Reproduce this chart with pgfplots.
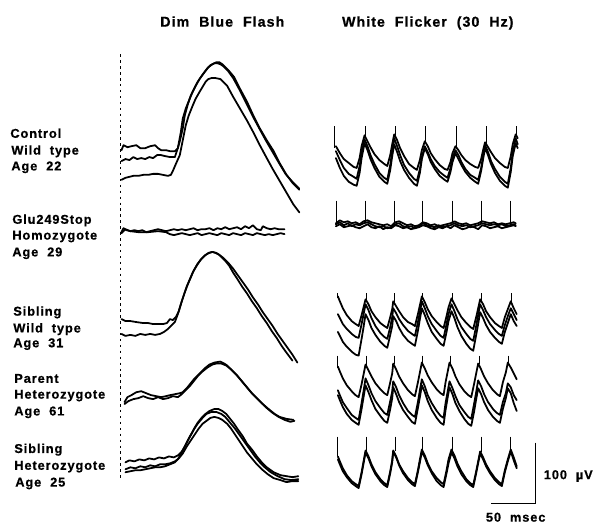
\documentclass[border=0pt]{standalone}
\usepackage{pgfplots}
\pgfplotsset{compat=1.18}
\usepackage{pgfplotstable}
\usepackage{fontspec}
\setmainfont{Liberation Sans}
\newfontfamily\lab{Liberation Sans}[LetterSpace=7, FakeBold=0.7]
\newcommand{\lb}{\lab\bfseries\fontsize{13}{15}\selectfont}
\newcommand{\tl}{\lab\bfseries\fontsize{14.5}{16}\selectfont}

% Flicker: control (x, three traces)
\pgfplotstableread{
x a b c
340 148 153 160
344 155 162 170
348 161 170 178
353 165 176 184
358 169 179 187
361 170 181 188
364 160 168 175
366 148 155 160
369 137 141 145
372 143 148 152
375 149 157 161
379 156 166 170
384 162 175 179
389 166 180 184
392 168 182 186
395 157 167 172
397 146 153 158
399 136 140 146
402 142 148 154
405 150 157 163
409 158 167 172
414 166 175 180
419 170 181 186
422 172 183 188
425 162 171 175
427 152 159 161
430 143 148 150
433 148 154 156
436 155 161 164
440 161 168 171
445 167 174 178
450 171 178 182
453 172 180 184
456 164 170 174
458 155 160 164
461 148 152 155
464 152 157 161
467 157 164 167
471 162 171 174
476 166 177 180
481 169 180 184
484 170 182 186
487 161 170 173
489 152 158 161
491 144 147 150
494 149 154 157
497 154 163 166
501 160 171 175
506 165 179 183
511 169 184 188
514 170 186 190
517 158 170 174
519 146 154 158
522 136 140 145
524 140 146 150
}\ctrlflick

% Flicker: Glu249Stop (noise)
\pgfplotstableread{
x a b c
340 226 229 227
344 223 227 225
348 225 230 228
352 224 229 226
356 226 228 229
360 225 230 227
364 227 231 228
368 224 229 226
372 223 227 225
376 225 230 227
380 226 231 229
384 227 229 230
388 228 232 229
392 227 230 231
396 229 231 230
400 225 228 227
404 224 229 226
408 226 231 229
412 228 230 230
416 227 232 229
420 229 231 231
424 228 230 229
428 225 228 226
432 226 229 228
436 228 231 229
440 227 232 230
444 229 230 228
448 228 231 230
452 227 229 229
456 226 231 228
460 224 228 226
464 226 230 228
468 227 232 229
472 226 231 228
476 228 229 230
480 227 230 229
484 226 232 228
488 224 228 226
492 225 229 227
496 226 231 228
500 225 230 227
504 227 229 228
508 226 231 227
512 227 230 229
516 226 229 228
520 225 228 227
522 226 229 228
}\gluflick

% Flicker: sibling wild type (w*) and sibling heterozygote (h*)
\pgfplotstableread{
x wa wb wc ha hb
342 300 318 336 462 465
344 305 322 340 467 470
347 312 328 346 474 477
351 319 333 351 481 483
356 325 338 356 487 489
360 328 341 359 490 492
363 330 342 360 492 494
366 319 328 343 478 480
368 311 318 331 467 469
370 303 308 318 456 458
373 308 314 324 462 464
376 315 322 332 470 472
380 321 330 339 478 480
385 327 337 346 485 487
389 330 341 350 489 491
392 332 343 352 491 493
395 321 331 339 477 479
397 313 321 330 466 468
398 305 312 320 456 457
401 310 317 325 462 463
404 315 323 332 470 471
408 321 329 339 477 479
413 326 335 345 484 486
417 328 338 348 488 490
420 330 340 350 490 492
423 318 326 335 476 478
425 309 316 323 465 468
427 300 305 312 455 457
430 306 312 319 461 463
433 313 320 327 469 471
437 320 328 336 477 479
442 326 335 343 484 487
446 330 340 348 488 491
449 332 342 350 490 493
452 320 328 336 476 479
454 311 318 325 465 469
457 302 308 315 455 458
460 308 315 322 461 464
463 314 323 331 469 472
467 321 331 340 477 480
472 327 338 348 485 487
476 331 343 353 489 491
479 333 345 355 491 493
482 321 330 339 477 479
484 312 319 328 467 469
486 303 308 316 457 459
489 308 314 322 463 465
492 315 321 329 470 472
496 321 328 336 477 479
501 327 334 342 484 486
505 330 338 346 488 490
508 332 340 348 490 492
511 321 329 336 476 478
514 313 320 327 465 467
517 305 312 318 455 457
520 312 318 325 463 466
523 318 324 330 472 474
}\sibflick

% Flicker: parent heterozygote
\pgfplotstableread{
x a b c
342 371 395 400
344 376 400 405
347 383 407 412
351 390 413 419
356 396 420 425
360 400 423 428
363 402 425 430
366 389 408 414
368 379 396 402
370 369 383 390
373 375 390 397
376 381 398 405
380 388 406 414
385 394 413 421
389 398 418 426
392 400 420 428
395 387 406 414
397 378 396 403
398 368 386 392
401 374 392 399
404 381 400 407
408 388 408 415
413 395 416 422
417 399 420 427
420 401 422 429
423 387 407 413
425 377 395 402
427 367 384 390
430 373 391 397
433 380 400 406
437 387 408 415
442 394 416 423
446 398 421 428
449 400 423 430
451 387 408 415
453 377 397 403
455 367 386 392
458 373 393 399
461 381 401 408
465 389 410 416
470 396 417 424
474 400 422 429
477 402 424 431
480 388 408 416
482 378 397 404
484 368 385 393
487 374 391 399
490 381 399 407
494 388 407 415
499 395 414 422
503 399 418 426
506 401 420 428
509 387 407 414
512 377 398 403
514 367 388 393
517 372 392 398
520 378 400 408
523 384 405 416
}\parflick

\begin{document}
\begin{tikzpicture}
\begin{axis}[
  width=596bp, height=530bp, scale only axis,
  xmin=0, xmax=596, ymin=0, ymax=530, y dir=reverse,
  hide axis, clip=false,
  unbounded coords=jump,
  trace/.style={black, line width=1.8pt, line join=round, line cap=round, mark=none},
  art/.style={black, line width=1.1pt, mark=none},
  every node/.append style={inner sep=0pt},
]
\path (rel axis cs:0,0) rectangle (rel axis cs:1,1);

% ---- titles
\node[anchor=base, font=\tl] at (axis cs:225,27) {Dim\ \ Blue\ \ Flash};
\node[anchor=base, font=\tl] at (axis cs:433,27) {White\ \ Flicker\ \ (30\ \ Hz)};

% ---- row labels
\node[anchor=base west, font=\lb] at (axis cs:7,139.5) {Control};
\node[anchor=base west, font=\lb] at (axis cs:8,156.5) {Wild\ \ type};
\node[anchor=base west, font=\lb] at (axis cs:8,172.5) {Age\ \ 22};
\node[anchor=base west, font=\lb] at (axis cs:9,226.5) {Glu249Stop};
\node[anchor=base west, font=\lb] at (axis cs:9,242.5) {Homozygote};
\node[anchor=base west, font=\lb] at (axis cs:9,259.5) {Age\ \ 29};
\node[anchor=base west, font=\lb] at (axis cs:10,319.5) {Sibling};
\node[anchor=base west, font=\lb] at (axis cs:10,336.5) {Wild\ \ type};
\node[anchor=base west, font=\lb] at (axis cs:10,351.5) {Age\ \ 31};
\node[anchor=base west, font=\lb] at (axis cs:11,387.5) {Parent};
\node[anchor=base west, font=\lb] at (axis cs:11,403.5) {Heterozygote};
\node[anchor=base west, font=\lb] at (axis cs:11,420.5) {Age\ \ 61};
\node[anchor=base west, font=\lb] at (axis cs:11,458.5) {Sibling};
\node[anchor=base west, font=\lb] at (axis cs:11,475.5) {Heterozygote};
\node[anchor=base west, font=\lb] at (axis cs:12,492.5) {Age\ \ 25};

% ---- flash onset (dashed)
\addplot[black, line width=1.2pt, dash pattern=on 2.5bp off 3.5bp, mark=none] coordinates {(122,55) (122,485)};

% ---- Dim blue flash: control
\addplot[trace] coordinates {(123,152)(125,147)(129,149)(133,148)(138,147)(142,150)(147,150)(152,148)(157,147)(160,150)(163,152)(168,152)(172,153)(177,153)(180,150)(182,143)(185,130)(187,117)(190,106)(193,97)(197,89)(200,83)(204,77)(207,73)(211,68)(215,65)(219,63)(222,63)(225,65)(227,67)(232,72)(237,78)(243,90)(250,103)(256,116)(263,130)(270,142)(277,153)(283,165)(290,177)(296,185)(303,192)};
\addplot[trace] coordinates {(123,163)(127,161)(131,162)(135,159)(139,161)(143,160)(147,161)(151,159)(155,160)(159,157)(163,157)(167,158)(172,159)(177,159)(180,150)(183,134)(185,120)(188,110)(192,100)(195,93)(198,87)(202,80)(207,73)(210,69)(213,66)(217,64)(220,64)(223,65)(226,67)(231,72)(236,79)(242,90)(249,104)(256,118)(263,131)(269,142)(276,154)(283,166)(289,176)(296,184)(303,191)};
\addplot[trace] coordinates {(123,182)(127,180)(131,179)(135,178)(140,178)(145,177)(150,177)(155,176)(160,176)(165,177)(170,178)(173,177)(175,173)(178,166)(182,157)(185,142)(188,127)(191,117)(195,107)(198,100)(202,93)(205,88)(208,83)(211,80)(214,79)(218,79)(223,80)(227,84)(230,87)(236,98)(243,110)(250,122)(257,135)(263,147)(270,160)(276,171)(283,183)(290,195)(297,207)(303,215)};

% ---- Dim blue flash: Glu249Stop
\addplot[trace] coordinates {(123,235)(125,231)(128,233)(132,234)(136,233)(140,234)(144,233)(148,235)(152,234)(156,233)(160,232)(164,233)(168,234)(172,233)(176,232)(180,233)(184,232)(188,233)(192,232)(196,231)(200,233)(204,232)(208,232)(212,231)(216,233)(220,231)(224,232)(228,230)(232,232)(236,231)(240,230)(244,232)(248,229)(252,231)(256,228)(260,232)(264,233)(266,229)(270,231)(274,232)(278,231)(282,232)(288,232)};
\addplot[trace] coordinates {(123,236)(127,232)(132,234)(140,235)(150,235)(160,234)(168,235)(172,237)(176,238)(180,237)(184,236)(188,237)(192,238)(196,237)(200,236)(204,238)(208,237)(212,236)(216,237)(220,238)(224,236)(228,237)(232,238)(236,236)(240,237)(244,238)(248,236)(252,237)(256,238)(260,236)(264,237)(268,238)(272,237)(276,238)(280,237)(284,236)(288,237)};

% ---- Dim blue flash: sibling wild type
\addplot[trace] coordinates {(123,323)(127,325)(132,325)(138,326)(145,327)(150,327)(155,328)(160,328)(165,328)(169,327)(172,323)(175,324)(178,321)(181,315)(184,305)(187,296)(190,288)(193,281)(196,274)(200,267)(204,262)(208,258)(212,256)(215,255)(219,256)(222,258)(225,261)(228,264)(232,269)(236,276)(240,282)(245,290)(250,297)(255,305)(260,312)(265,320)(270,327)(275,335)(280,342)(285,350)(290,357)(296,365)};
\addplot[trace] coordinates {(123,338)(127,340)(132,339)(137,340)(142,338)(147,339)(152,338)(157,339)(162,338)(166,336)(170,333)(174,329)(177,326)(180,318)(183,308)(186,299)(189,290)(192,283)(195,276)(199,269)(203,263)(207,259)(211,256)(215,255)(218,256)(222,258)(226,261)(231,266)(236,272)(241,279)(246,286)(251,293)(256,301)(261,308)(266,316)(271,323)(276,330)(281,338)(286,345)(291,352)(296,359)(301,367)};

% ---- Dim blue flash: parent heterozygote
\addplot[trace] coordinates {(126,407)(129,402)(133,400)(138,397)(143,396)(148,398)(153,400)(158,401)(163,402)(168,401)(172,400)(177,399)(182,398)(185,397)(189,393)(193,388)(197,383)(202,378)(207,373)(212,369)(217,367)(223,366)(227,368)(230,370)(235,375)(240,380)(245,386)(250,392)(255,398)(260,403)(266,409)(273,415)(278,419)(283,422)(290,424)(297,425)};
\addplot[trace] coordinates {(126,409)(130,406)(135,404)(140,403)(145,401)(150,403)(155,404)(160,402)(165,404)(170,403)(175,401)(180,402)(184,399)(188,395)(192,391)(196,386)(200,381)(205,376)(210,372)(215,369)(219,368)(224,368)(229,370)(234,374)(239,379)(244,385)(249,391)(254,397)(259,402)(264,407)(270,413)(276,418)(282,422)(288,425)(294,427)(298,426)};

% ---- Dim blue flash: sibling heterozygote
\addplot[trace] coordinates {(127,468)(131,466)(136,467)(141,465)(146,466)(151,464)(156,465)(161,463)(166,464)(171,462)(176,463)(180,461)(184,457)(187,452)(190,446)(194,439)(197,433)(200,428)(204,423)(208,419)(212,416)(217,414)(221,414)(225,416)(229,419)(233,424)(237,429)(241,435)(246,442)(250,449)(255,455)(260,462)(265,468)(270,473)(277,478)(284,481)(290,482)(296,483)(302,482)};
\addplot[trace] coordinates {(127,475)(132,473)(137,474)(142,472)(147,473)(152,471)(157,472)(162,470)(167,470)(172,469)(177,467)(181,464)(185,459)(189,452)(193,446)(197,440)(201,434)(205,429)(209,426)(213,423)(217,422)(221,423)(225,425)(230,429)(234,434)(238,440)(242,446)(246,452)(250,458)(255,464)(260,470)(265,475)(271,480)(277,484)(284,486)(290,488)(296,487)(302,487)};
\addplot[trace] coordinates {(127,478)(132,477)(137,476)(142,476)(147,475)(152,474)(157,473)(162,473)(167,472)(172,470)(177,468)(180,465)(184,458)(188,450)(192,442)(196,435)(200,429)(205,423)(209,419)(214,417)(219,417)(224,419)(228,422)(233,428)(238,434)(243,441)(248,448)(253,455)(258,462)(263,468)(268,473)(274,478)(281,482)(288,485)(295,486)(302,485)};

% ---- Flicker traces
\addplot[trace] table[x=x,y=a] {\ctrlflick};
\addplot[trace] table[x=x,y=b] {\ctrlflick};
\addplot[trace] table[x=x,y=c] {\ctrlflick};
\addplot[art] coordinates {(339,128)(339,150) (339,nan) (370,128)(370,140) (370,nan) (400,128)(400,140) (400,nan) (431,128)(431,145) (431,nan) (462,128)(462,150) (462,nan) (492,128)(492,146) (492,nan) (523,128)(523,138)};

\addplot[trace] table[x=x,y=a] {\gluflick};
\addplot[trace] table[x=x,y=b] {\gluflick};
\addplot[trace] table[x=x,y=c] {\gluflick};
\addplot[art] coordinates {(341,203)(341,226) (341,nan) (370,203)(370,226) (370,nan) (399,203)(399,226) (399,nan) (428,203)(428,226) (428,nan) (458,203)(458,226) (458,nan) (487,203)(487,226) (487,nan) (517,203)(517,226)};

\addplot[trace] table[x=x,y=wa] {\sibflick};
\addplot[trace] table[x=x,y=wb] {\sibflick};
\addplot[trace] table[x=x,y=wc] {\sibflick};
\addplot[art] coordinates {(342,297)(342,302) (342,nan) (371,297)(371,305) (371,nan) (399,297)(399,306) (399,nan) (428,297)(428,302) (428,nan) (458,297)(458,304) (458,nan) (487,297)(487,305) (487,nan) (518,297)(518,307)};

\addplot[trace] table[x=x,y=a] {\parflick};
\addplot[trace] table[x=x,y=b] {\parflick};
\addplot[trace] table[x=x,y=c] {\parflick};
\addplot[art] coordinates {(342,360)(342,372) (342,nan) (371,360)(371,369) (371,nan) (399,360)(399,368) (399,nan) (428,360)(428,367) (428,nan) (456,360)(456,367) (456,nan) (485,360)(485,368) (485,nan) (515,360)(515,367)};

\addplot[trace] table[x=x,y=ha] {\sibflick};
\addplot[trace] table[x=x,y=hb] {\sibflick};
\addplot[art] coordinates {(342,442)(342,462) (342,nan) (371,442)(371,457) (371,nan) (400,442)(400,457) (400,nan) (428,442)(428,456) (428,nan) (458,442)(458,456) (458,nan) (487,442)(487,458) (487,nan) (517,442)(517,456)};

% ---- scale bar
\addplot[black, line width=1.1pt, mark=none] coordinates {(542,448) (542,510) (497,510)};
\node[anchor=base west, font=\lb] at (axis cs:547,485) {100\ \ µV};
\node[anchor=base, font=\lb] at (axis cs:522,528) {50\ \ msec};
\end{axis}
\end{tikzpicture}
\end{document}
